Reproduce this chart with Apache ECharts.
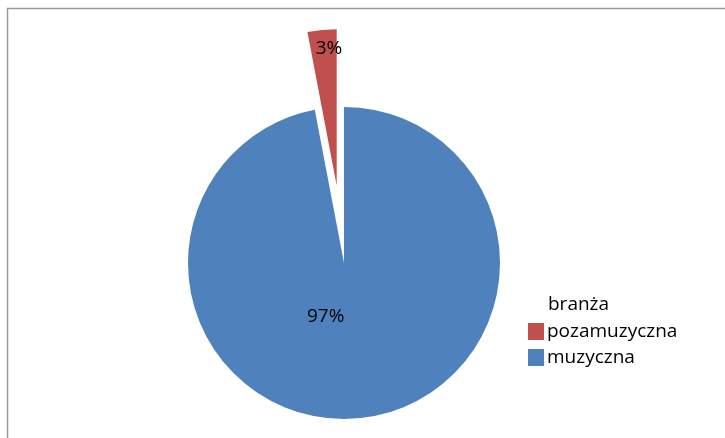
<!DOCTYPE html>
<html>
<head>
<meta charset="utf-8">
<script src="https://cdn.jsdelivr.net/npm/echarts@6/dist/echarts.min.js"></script>
<style>
html,body{margin:0;padding:0;background:#fff;}
#c{width:725px;height:438px;}
</style>
</head>
<body>
<div id="c"></div>
<script>
const categories = ['muzyczna', 'pozamuzyczna'];
const values = [97, 3];
const labels = ['97%', '3%'];
const colors = ['#4F81BD', '#C0504D'];
const legendTitle = 'branża';
const legendOrder = ['pozamuzyczna', 'muzyczna'];

const FONT = '"Open Sans", "Noto Sans", sans-serif';
const chart = echarts.init(document.getElementById('c'));

const labelShift = [[-26, -27], [0, -56]];

chart.setOption({
  animation: false,
  graphic: [
    { type: 'rect', shape: { x: 7.5, y: 8.5, width: 900, height: 600 },
      style: { fill: 'none', stroke: '#999', lineWidth: 1.5 }, silent: true }
  ],
  title: {
    text: legendTitle,
    left: 548, top: 295,
    padding: 0,
    textStyle: { fontFamily: FONT, fontSize: 19, fontWeight: 'normal', color: '#000' }
  },
  legend: {
    orient: 'vertical',
    left: 528, top: 322,
    padding: 0,
    itemWidth: 16, itemHeight: 17,
    itemGap: 7,
    itemStyle: { borderWidth: 0 },
    icon: 'rect',
    data: legendOrder,
    textStyle: { fontFamily: FONT, fontSize: 19, color: '#000', padding: [0, 0, 0, -2] },
    selectedMode: false
  },
  series: [{
    type: 'pie',
    center: [344, 263],
    radius: 156,
    startAngle: 90,
    clockwise: true,
    selectedMode: 'multiple',
    selectedOffset: 78,
    avoidLabelOverlap: false,
    emphasis: { disabled: true },
    label: {
      show: true,
      position: 'inside',
      fontFamily: FONT, fontSize: 19, color: '#000',
      formatter: p => labels[p.dataIndex]
    },
    labelLine: { show: false },
    labelLayout: p => ({ dx: labelShift[p.dataIndex][0], dy: labelShift[p.dataIndex][1] }),
    data: categories.map((c, i) => ({
      name: c, value: values[i],
      selected: i === 1,
      itemStyle: { color: colors[i], borderWidth: 0 }
    }))
  }]
});
</script>
</body>
</html>
